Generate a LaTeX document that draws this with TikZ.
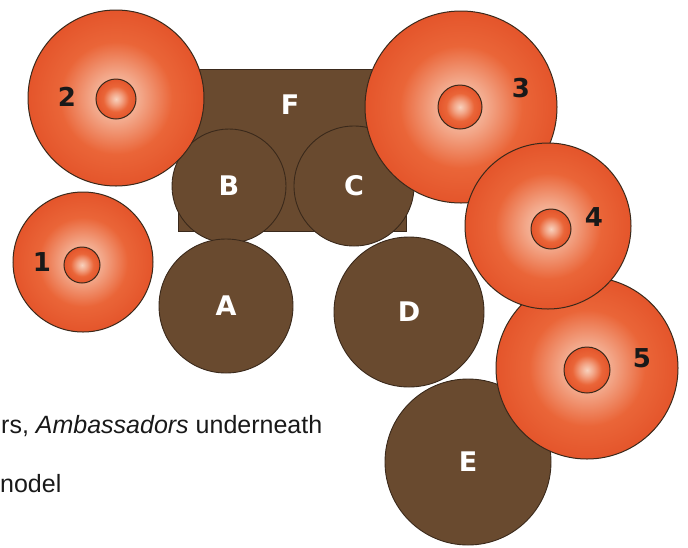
\documentclass[tikz,border=0pt]{standalone}
\usepackage{fontspec}
\setmainfont{Liberation Sans}
\newfontfamily\heavyfont{DejaVu Sans}
\definecolor{seatbrown}{HTML}{694A2F}
\definecolor{seatedge}{HTML}{3A291B}
\definecolor{ballorange}{HTML}{EA6538}
\definecolor{balldeep}{HTML}{E4552B}
\definecolor{balllight}{HTML}{F8D2BE}
\pgfdeclareradialshading{orangeball}{\pgfpoint{0bp}{0bp}}{color(0bp)=(balllight); color(7bp)=(balllight!60!ballorange); color(16bp)=(ballorange); color(25bp)=(balldeep); color(50bp)=(balldeep)}
\tikzset{
  seat/.style={circle, draw=seatedge, line width=0.9pt, fill=seatbrown, inner sep=0pt, text=white, font=\heavyfont\fontsize{27}{27}\selectfont\bfseries},
  ball/.style={circle, draw=seatedge, line width=1pt, shade, shading=orangeball, inner sep=0pt},
  num/.style={font=\heavyfont\fontsize{26}{26}\selectfont\bfseries, text=black!90},
  caption/.style={anchor=base west, inner sep=0pt, text=black!90, font=\fontsize{25}{25}\selectfont}
}
\begin{document}
\begin{tikzpicture}[x=1pt, y=-1pt]
\useasboundingbox (0,0) rectangle (688,547);
\clip (0,0) rectangle (688,547);
% table and chairs
\node[draw=seatedge, line width=0.9pt, fill=seatbrown, minimum width=228pt, minimum height=162pt, inner sep=0pt] (f) at (292,150) {};
\node[seat, fill=none, draw=none] (flabel) at (290,105) {F};
\node[seat, minimum size=114pt] (b) at (229,186) {B};
\node[seat, minimum size=120pt] (c) at (354,186) {C};
\node[seat, minimum size=134pt] (a) at (226,306) {A};
\node[seat, minimum size=150pt] (d) at (409,312) {D};
\node[seat, minimum size=166pt] (e) at (468,462) {E};
% guests
\node[ball, minimum size=140pt] (s1) at (83,262) {};
\node[ball, minimum size=36pt] (s1i) at (82,265) {};
\node[num] (n1) at (42,262) {1};
\node[ball, minimum size=176pt] (s2) at (116,98) {};
\node[ball, minimum size=40pt] (s2i) at (116,99) {};
\node[num] (n2) at (67,97) {2};
\node[ball, minimum size=192pt] (s3) at (461,107) {};
\node[ball, minimum size=44pt] (s3i) at (460,107) {};
\node[num] (n3) at (521,88) {3};
\node[ball, minimum size=182pt] (s5) at (587,368) {};
\node[ball, minimum size=46pt] (s5i) at (587,370) {};
\node[num] (n5) at (642,358) {5};
\node[ball, minimum size=166pt] (s4) at (548,226) {};
\node[ball, minimum size=40pt] (s4i) at (551,229) {};
\node[num] (n4) at (594,217) {4};
% caption remains
\node[caption] (t1) at (1,433) {rs, \textit{Ambassadors} underneath};
\node[caption] (t2) at (0,492) {nodel};
\end{tikzpicture}
\end{document}
